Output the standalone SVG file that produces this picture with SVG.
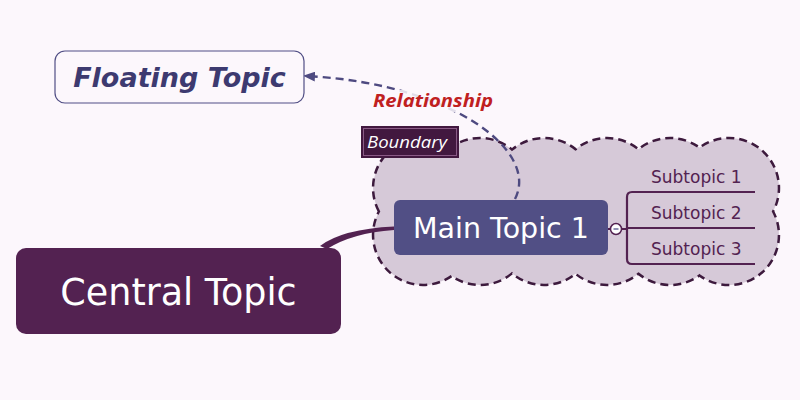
<svg xmlns="http://www.w3.org/2000/svg" width="800" height="400" viewBox="0 0 800 400">
<defs>
<style>
.dv{font-family:"DejaVu Sans","Liberation Sans",sans-serif}
.sub{font-size:17px;fill:#532251}
.br{fill:none;stroke:#532251;stroke-width:2.2}
</style>
<marker id="arr" viewBox="0 0 12 10" refX="1" refY="5" markerWidth="12" markerHeight="10" markerUnits="userSpaceOnUse" orient="auto-start-reverse">
<path d="M0 0 L12 5 L0 10 Z" fill="#4e4a80"/>
</marker>
</defs>
<rect width="800" height="400" fill="#fcf7fc"/>
<g id="boundary">
<path d="M378.9 211.5 A50 50 0 0 1 451.5 146.9 A50 50 0 0 1 512 149.6 A50 50 0 0 1 575.5 149.2 A50 50 0 0 1 638.5 149.2 A50 50 0 0 1 699.5 147.6 A50 50 0 0 1 773.1 211.5 A50 50 0 0 1 699.5 275.4 A50 50 0 0 1 638.5 273.8 A50 50 0 0 1 575.5 273.8 A50 50 0 0 1 512 273.4 A50 50 0 0 1 451.5 276.1 A50 50 0 0 1 378.9 211.5 Z" fill="#d6c9d8" stroke="#3d1a3d" stroke-width="2.5" stroke-dasharray="8 5"/>
</g>
<g id="connectors">
<path d="M320 246 Q342 229 394 226.5 L394 230 Q352 233 327 249 Z" fill="#532251"/>
<path d="M608 229 L611 229 M621 229 L627 229" class="br"/>
<path d="M755 192 L632 192 Q627 192 627 197 L627 259 Q627 264 632 264 L755 264 M627 228 L755 228" class="br"/>
<path d="M515 199 C540 150 450 85 314 76.5" fill="none" stroke="#4e4a80" stroke-width="2.4" stroke-dasharray="8 5" marker-end="url(#arr)"/>
</g>
<g id="relationship-label">
<rect x="370" y="90" width="126" height="22" fill="#fcf7fc" opacity="0.85"/>
<text x="373" y="107" textLength="120" lengthAdjust="spacingAndGlyphs" font-family="'Open Sans',Lato,sans-serif" font-style="italic" font-weight="bold" font-size="17" fill="#c0201f">Relationship</text>
</g>
<g id="boundary-label">
<rect x="361" y="126" width="98" height="32" fill="#42183f"/>
<rect x="363.5" y="128.5" width="93" height="27" fill="none" stroke="#8a5a86" stroke-width="1"/>
<text x="367" y="148" textLength="80" lengthAdjust="spacingAndGlyphs" font-family="'Open Sans',Lato,sans-serif" font-style="italic" font-weight="400" font-size="17" fill="#ffffff">Boundary</text>
</g>
<g id="central-topic">
<rect x="16" y="248" width="325" height="86" rx="10" fill="#532251"/>
<text x="178.5" y="305" text-anchor="middle" class="dv" font-size="36.5" fill="#ffffff">Central Topic</text>
</g>
<g id="main-topic-1">
<rect x="394" y="200" width="214" height="55" rx="6" fill="#514f85"/>
<text x="501" y="238" text-anchor="middle" class="dv" font-size="28.5" fill="#ffffff">Main Topic 1</text>
</g>
<g id="collapse">
<circle cx="616" cy="229" r="5.5" fill="#ffffff" stroke="#532251" stroke-width="1.5"/>
<path d="M613.5 229 L618.5 229" stroke="#6a6a9a" stroke-width="1.5"/>
</g>
<g id="subtopic-1"><text x="651" y="183" class="dv sub">Subtopic 1</text></g>
<g id="subtopic-2"><text x="651" y="219" class="dv sub">Subtopic 2</text></g>
<g id="subtopic-3"><text x="651" y="255" class="dv sub">Subtopic 3</text></g>
<g id="floating-topic">
<rect x="55" y="51" width="249" height="52" rx="10" fill="#fcf7fc" stroke="#514f85" stroke-width="1.2"/>
<text x="179.5" y="87" text-anchor="middle" class="dv" font-style="italic" font-weight="bold" font-size="27" fill="#3d3a70">Floating Topic</text>
</g>
</svg>
